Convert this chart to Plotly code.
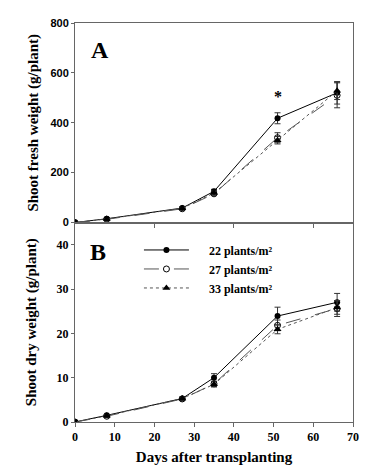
import plotly.graph_objects as go
from plotly.subplots import make_subplots

days = [0, 8, 27, 35, 51, 66]
series_names = ["22 plants/m²", "27 plants/m²", "33 plants/m²"]

fresh_22 = [0, 15, 58, 125, 418, 520]
fresh_27 = [0, 13, 55, 115, 340, 510]
fresh_33 = [0, 14, 57, 118, 330, 528]
fresh_err_22 = [0, 2, 4, 8, 22, 45]
fresh_err_27 = [0, 2, 4, 6, 20, 50]
fresh_err_33 = [0, 2, 4, 8, 15, 35]

dry_22 = [0, 1.5, 5.3, 10.0, 23.9, 27.0]
dry_27 = [0, 1.3, 5.2, 8.6, 21.8, 25.6]
dry_33 = [0, 1.4, 5.3, 8.5, 20.9, 25.8]
dry_err_22 = [0, 0.2, 0.3, 0.9, 2.0, 2.0]
dry_err_27 = [0, 0.2, 0.3, 0.6, 1.2, 1.8]
dry_err_33 = [0, 0.2, 0.3, 0.6, 1.0, 1.5]

x_ticks = [0, 10, 20, 30, 40, 50, 60, 70]
fresh_ticks = [0, 200, 400, 600, 800]
dry_ticks = [0, 10, 20, 30, 40]

SERIF = "Liberation Serif, Times New Roman, serif"
SANS = "Liberation Sans, Arial, sans-serif"
AX = "#666666"
PAD = "\u00a0" * 5

styles = [
    dict(line=dict(color="black", width=1, dash="solid"),
         marker=dict(symbol="circle", size=6, color="black")),
    dict(line=dict(color="#555555", width=1, dash="longdash"),
         marker=dict(symbol="circle-open", size=6, color="black", line=dict(width=1))),
    dict(line=dict(color="#555555", width=1, dash="dot"),
         marker=dict(symbol="triangle-up", size=7, color="black")),
]

fig = make_subplots(rows=2, cols=1, shared_xaxes=False, vertical_spacing=0)

fresh = [(fresh_22, fresh_err_22), (fresh_27, fresh_err_27), (fresh_33, fresh_err_33)]
dry = [(dry_22, dry_err_22), (dry_27, dry_err_27), (dry_33, dry_err_33)]

for i, (vals, err) in enumerate(fresh):
    fig.add_trace(go.Scatter(
        x=days, y=vals, mode="lines+markers", name=series_names[i], showlegend=False,
        error_y=dict(type="data", array=err, color="#333333", thickness=1, width=3),
        **styles[i]), row=1, col=1)

for i, (vals, err) in enumerate(dry):
    fig.add_trace(go.Scatter(
        x=days, y=vals, mode="lines+markers", name=PAD + series_names[i], showlegend=True,
        error_y=dict(type="data", array=err, color="#333333", thickness=1, width=3),
        **styles[i]), row=2, col=1)

fig.update_xaxes(range=[0, 70], tickvals=[20, 40, 60], showticklabels=False,
                 ticks="outside", ticklen=4, tickcolor=AX, automargin=False,
                 showline=True, linecolor=AX, linewidth=1, mirror=True,
                 showgrid=False, zeroline=False, row=1, col=1)
fig.update_xaxes(range=[0, 70], tickvals=x_ticks, ticks="outside", ticklen=4, tickcolor=AX,
                 tickfont=dict(family=SERIF, size=12, color="black", weight="bold"),
                 showline=True, linecolor=AX, linewidth=1, mirror=True, automargin=False,
                 showgrid=False, zeroline=False,
                 title=dict(text="<b>Days after transplanting</b>",
                            font=dict(family=SERIF, size=15, color="black"), standoff=8),
                 row=2, col=1)
fig.update_yaxes(range=[0, 800], tickvals=fresh_ticks, ticks="outside", ticklen=3, tickcolor=AX,
                 tickfont=dict(family=SANS, size=11, color="black", weight="bold"),
                 showline=True, linecolor=AX, linewidth=1, mirror=True, automargin=False,
                 showgrid=False, zeroline=False,
                 title=dict(text="<b>Shoot fresh weight (g/plant)</b>",
                            font=dict(family=SERIF, size=15, color="black"), standoff=8),
                 row=1, col=1)
fig.update_yaxes(range=[0, 45], tickvals=dry_ticks, ticks="outside", ticklen=3, tickcolor=AX,
                 tickfont=dict(family=SERIF, size=12, color="black", weight="bold"),
                 showline=True, linecolor=AX, linewidth=1, mirror=True, automargin=False,
                 showgrid=False, zeroline=False,
                 title=dict(text="<b>Shoot dry weight (g/plant)</b>",
                            font=dict(family=SERIF, size=15, color="black"), standoff=16),
                 row=2, col=1)

fig.add_annotation(x=6.3, y=690, xref="x", yref="y", text="<b>A</b>", showarrow=False,
                   font=dict(family=SERIF, size=24, color="black"))
fig.add_annotation(x=5.8, y=38.3, xref="x2", yref="y2", text="<b>B</b>", showarrow=False,
                   font=dict(family=SERIF, size=24, color="black"))
fig.add_annotation(x=51, y=505, xref="x", yref="y", text="<b>*</b>", showarrow=False,
                   font=dict(family=SERIF, size=16, color="#000000"))

fig.update_layout(
    width=362, height=458,
    margin=dict(l=67, r=17, t=15, b=44),
    paper_bgcolor="white", plot_bgcolor="white",
    legend=dict(x=0.23, y=0.4675, xanchor="left", yanchor="top",
                bgcolor="rgba(0,0,0,0)", borderwidth=0,
                font=dict(family=SERIF, size=12, color="black", weight="bold"),
                tracegroupgap=0, itemwidth=45),
    showlegend=True,
)

fig.write_html("out.html")
